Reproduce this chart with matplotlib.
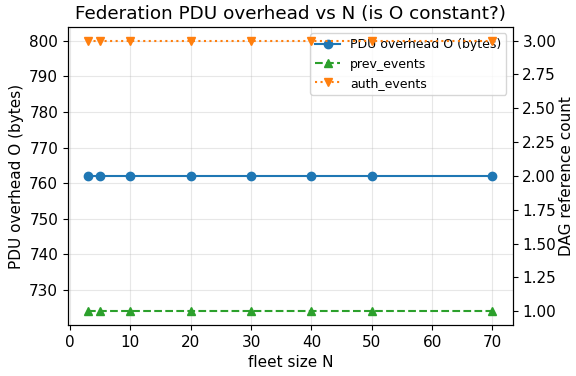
import matplotlib
matplotlib.use("Agg")
import matplotlib.pyplot as plt

plt.rcParams["font.size"] = 11

# fleet sizes and measured values
fleet_n = [3, 5, 10, 20, 30, 40, 50, 70]
pdu_overhead = [762, 762, 762, 762, 762, 762, 762, 762]
prev_events = [1, 1, 1, 1, 1, 1, 1, 1]
auth_events = [3, 3, 3, 3, 3, 3, 3, 3]

fig, ax1 = plt.subplots(figsize=(5.76, 3.76), dpi=100)
ax2 = ax1.twinx()

l1, = ax1.plot(fleet_n, pdu_overhead, "o-", color="tab:blue",
               label="PDU overhead O (bytes)")
l2, = ax2.plot(fleet_n, prev_events, "^--", color="tab:green",
               label="prev_events")
l3, = ax2.plot(fleet_n, auth_events, "v:", color="tab:orange",
               label="auth_events")

ax1.set_xlabel("fleet size N")
ax1.set_ylabel("PDU overhead O (bytes)")
ax2.set_ylabel("DAG reference count", labelpad=2)
ax1.set_title("Federation PDU overhead vs N (is O constant?)")
ax1.grid(alpha=0.3)

ax1.legend(handles=[l1, l2, l3], loc="upper right", fontsize=9)

fig.subplots_adjust(left=0.118, right=0.89, top=0.928, bottom=0.136)
fig.savefig("out.png")
